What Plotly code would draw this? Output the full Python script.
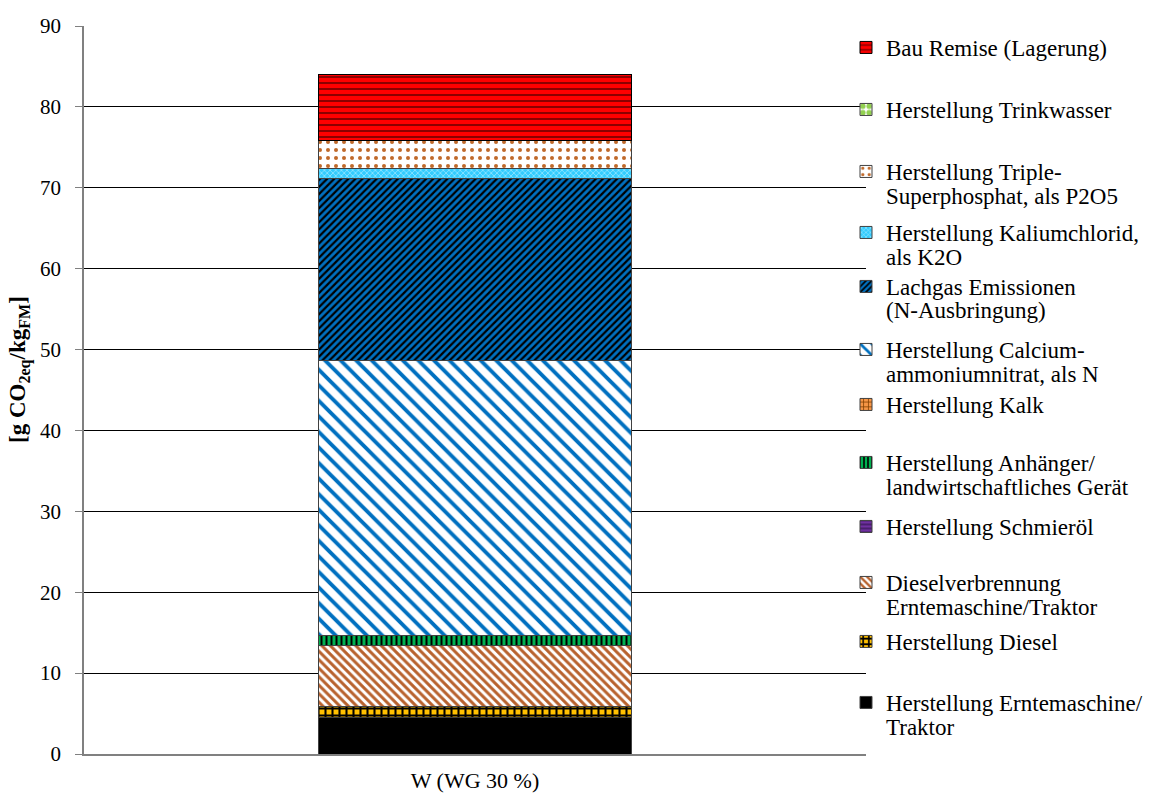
import plotly.graph_objects as go

# Treibhausgas-Bilanz, gestapelt von unten nach oben
category = ["W (WG 30 %)"]

series_names = [
    "Herstellung Erntemaschine/<br>Traktor",
    "Herstellung Diesel",
    "Dieselverbrennung<br>Erntemaschine/Traktor",
    "Herstellung Schmieröl",
    "Herstellung Anhänger/<br>landwirtschaftliches Gerät",
    "Herstellung Kalk",
    "Herstellung Calcium-<br>ammoniumnitrat, als N",
    "Lachgas Emissionen<br>(N-Ausbringung)",
    "Herstellung Kaliumchlorid,<br>als K2O",
    "Herstellung Triple-<br>Superphosphat, als P2O5",
    "Herstellung Trinkwasser",
    "Bau Remise (Lagerung)",
]

series_values = [4.5, 1.35, 7.55, 0.0, 1.3, 0.0, 34.0, 22.5, 1.2, 3.5, 0.0, 8.1]

y_ticks = [0, 10, 20, 30, 40, 50, 60, 70, 80, 90]
y_title = "<b>[g CO<sub>2eq</sub>/kg<sub>FM</sub>]</b>"

# Fill styles per series: (bgcolor, fgcolor, shape, size, solidity)
styles = [
    ("#000000", "#000000", "", 8, 0.3),
    ("#FFC000", "#000000", "+", 7, 0.5),
    ("#FFFFFF", "#B8622E", "\\", 6, 0.5),
    ("#7030A0", "#3F1A60", "-", 5, 0.4),
    ("#00B050", "#000000", "|", 5, 0.4),
    ("#F79646", "#7F3F00", "+", 6, 0.3),
    ("#FFFFFF", "#0070C0", "\\", 11, 0.35),
    ("#0070C0", "#000000", "/", 5, 0.45),
    ("#33CCFF", "#A8EBFF", "x", 4, 0.3),
    ("#FFFFFF", "#C0692A", ".", 8, 0.2),
    ("#FFFFFF", "#92D050", ".", 8, 0.6),
    ("#FF0000", "#7F0000", "-", 6, 0.3),
]

# Vertical pixel position (centre) of the first text line of each legend entry
legend_rows_px = [703, 642, 583, 527, 463, 405, 350, 287, 233, 172, 110, 48]
LINE_GAP = 24

W, H = 1155, 794
M_L, M_R, M_T, M_B = 84, 289, 26, 40
plot_h = H - M_T - M_B
plot_w = W - M_L - M_R

FONT = "Times New Roman"
LEG_SIZE = 23


def px_to_paper_y(py):
    return 1 - (py - M_T) / plot_h


def px_to_paper_x(px):
    return (px - M_L) / plot_w


fig = go.Figure()
layout_legends = {}
annotations = []
for i, (name, val, st, row) in enumerate(zip(series_names, series_values, styles, legend_rows_px)):
    bg, fg, shape, size, sol = st
    lines = name.split("<br>")
    lname = "legend" if i == 0 else f"legend{i + 1}"
    fig.add_trace(go.Bar(
        x=category,
        y=[val],
        name=lines[0],
        width=0.4,
        legend=lname,
        marker=dict(
            color=bg,
            line=dict(color="#000000" if i == 11 else "#404040", width=1),
            pattern=dict(shape=shape, bgcolor=bg, fgcolor=fg, fgopacity=1,
                         size=size, solidity=sol, fillmode="overlay"),
        ),
        hovertemplate="%{y}<extra>" + " ".join(lines) + "</extra>",
    ))
    layout_legends[lname] = dict(
        x=px_to_paper_x(846),
        y=px_to_paper_y(row - 22),
        xanchor="left",
        yanchor="top",
        bgcolor="rgba(0,0,0,0)",
        borderwidth=0,
        valign="middle",
        font=dict(family=FONT, size=LEG_SIZE, color="#000000"),
        itemwidth=30,
        tracegroupgap=0,
    )
    # continuation lines of wrapped legend labels
    for k, extra in enumerate(lines[1:], start=1):
        annotations.append(dict(
            text=extra,
            xref="paper", yref="paper",
            x=px_to_paper_x(884), y=px_to_paper_y(row + k * LINE_GAP),
            xanchor="left", yanchor="middle",
            showarrow=False,
            font=dict(family=FONT, size=LEG_SIZE, color="#000000"),
        ))

annotations.append(dict(
    text=y_title,
    xref="paper", yref="paper",
    x=px_to_paper_x(19), y=px_to_paper_y(370),
    xanchor="center", yanchor="middle",
    textangle=-90,
    showarrow=False,
    font=dict(family=FONT, size=23, color="#000000"),
))

fig.update_layout(
    barmode="stack",
    width=W,
    height=H,
    margin=dict(l=M_L, r=M_R, t=M_T, b=M_B, pad=0, autoexpand=False),
    paper_bgcolor="#FFFFFF",
    plot_bgcolor="#FFFFFF",
    font=dict(family=FONT, size=20, color="#000000"),
    showlegend=True,
    annotations=annotations,
    **layout_legends,
)

fig.update_yaxes(
    range=[0, 90],
    tickvals=y_ticks,
    ticktext=[str(t) for t in y_ticks],
    showgrid=True,
    gridcolor="#000000",
    gridwidth=1,
    zeroline=False,
    showline=True,
    linecolor="#808080",
    linewidth=1.5,
    ticks="outside",
    ticklen=7,
    tickcolor="#808080",
    ticklabelstandoff=10,
    automargin=False,
    tickfont=dict(family=FONT, size=21, color="#000000"),
)

fig.update_xaxes(
    showline=True,
    linecolor="#808080",
    linewidth=1.5,
    showgrid=False,
    ticks="",
    ticklabelstandoff=6,
    automargin=False,
    tickfont=dict(family=FONT, size=22, color="#000000"),
)

fig.write_html("out.html")
